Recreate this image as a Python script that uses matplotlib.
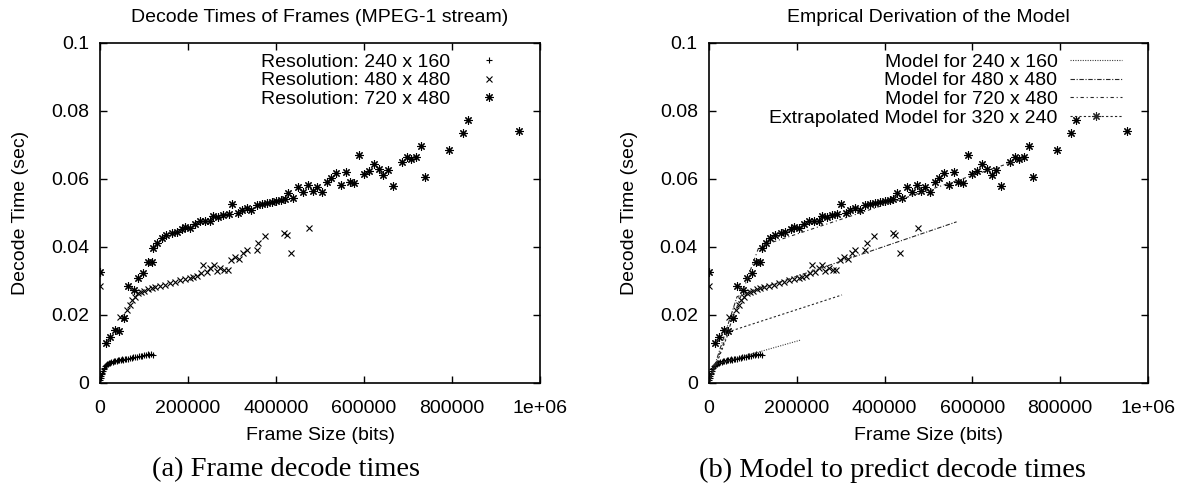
import matplotlib
matplotlib.use("Agg")
import matplotlib.pyplot as plt
from matplotlib.lines import Line2D
from matplotlib.legend_handler import HandlerLine2D

plt.rcParams['font.family'] = ['Liberation Sans', 'DejaVu Sans']
plt.rcParams['font.size'] = 14

# frame size (bits) / decode time (sec) per resolution
res240_x = [0, 1000, 2000, 3000, 4000, 5000, 6000, 8000, 10000, 12000, 14000, 16000,
            18000, 20000, 23000, 26000, 29000, 32000, 35000, 38000, 41000, 44000,
            47000, 50000, 53000, 56000, 60000, 64000, 68000, 72000, 76000, 80000,
            84000, 88000, 92000, 96000, 100000, 104000, 108000, 112000, 116000, 120000]
res240_y = [0.0025, 0.0009, 0.0015, 0.002, 0.0026, 0.003, 0.0034, 0.004, 0.0045, 0.0049,
            0.0052, 0.0055, 0.0057, 0.0059, 0.006, 0.0062, 0.0063, 0.0064, 0.0066, 0.0066,
            0.0067, 0.0068, 0.0068, 0.007, 0.0069, 0.0071, 0.0072, 0.0071, 0.0074, 0.0073,
            0.0075, 0.0077, 0.0076, 0.0079, 0.0078, 0.008, 0.0082, 0.0081, 0.0084, 0.0083,
            0.0085, 0.0082]

res480_x = [0, 45000, 55000, 61000, 68000, 73000, 80000, 87000, 94000, 101000, 109000,
            117000, 125000, 136000, 148000, 159000, 170000, 182000, 193000, 204000, 212000,
            220000, 230000, 235000, 242000, 250000, 258000, 265000, 273000, 282000, 290000,
            298000, 307000, 316000, 326000, 333000, 356000, 360000, 375000, 419000, 424000,
            434000, 476000]
res480_y = [0.0285, 0.0193, 0.019, 0.0215, 0.023, 0.0244, 0.0254, 0.0264, 0.0269, 0.0271,
            0.0275, 0.0278, 0.0281, 0.0285, 0.0288, 0.0293, 0.0298, 0.0303, 0.0305, 0.0308,
            0.0311, 0.0315, 0.0324, 0.0347, 0.0327, 0.0337, 0.0347, 0.033, 0.0337, 0.0332,
            0.0332, 0.0362, 0.0371, 0.0364, 0.0381, 0.0391, 0.0391, 0.0411, 0.0432, 0.0442,
            0.0435, 0.0381, 0.0457]

res720_x = [0, 13000, 22700, 34000, 44000, 55000, 64400, 78000, 87000, 98000, 108000,
            117000, 120000, 129000, 140000, 151000, 163000, 174000, 186000, 193000, 205000,
            216000, 227000, 239000, 250000, 257600, 269000, 280000, 292000, 301000, 313000,
            322000, 333000, 343000, 356000, 367000, 379000, 390000, 401000, 412000, 420000,
            428000, 439000, 451000, 462000, 473000, 483000, 492000, 504000, 515000, 525000,
            536000, 547000, 558000, 568000, 578000, 589000, 600000, 611000, 623000, 633000,
            644000, 654000, 665000, 686000, 697000, 707000, 718000, 729000, 739000, 793000,
            824000, 836000, 952000]
res720_y = [0.0326, 0.0117, 0.0136, 0.0156, 0.0154, 0.019, 0.0285, 0.0274, 0.0308, 0.0323,
            0.0357, 0.0357, 0.0398, 0.0411, 0.0425, 0.0435, 0.044, 0.0445, 0.0452, 0.046,
            0.0455, 0.0468, 0.0477, 0.0477, 0.0477, 0.0492, 0.0487, 0.0494, 0.0496, 0.0526,
            0.0501, 0.0509, 0.0514, 0.0509, 0.0524, 0.0526, 0.053, 0.0533, 0.0535, 0.0537,
            0.0541, 0.056, 0.0545, 0.0575, 0.0563, 0.0582, 0.0566, 0.0576, 0.0563, 0.0592,
            0.0602, 0.0617, 0.0582, 0.062, 0.0592, 0.0587, 0.0671, 0.0615, 0.0624, 0.0643,
            0.0629, 0.0612, 0.0626, 0.058, 0.0649, 0.0666, 0.0658, 0.0664, 0.0698, 0.0607,
            0.0685, 0.0736, 0.0774, 0.0742]

# piecewise linear models
model240_x = [0, 10000, 208000]
model240_y = [0, 0.0053, 0.0126]
model480_x = [0, 64000, 564000]
model480_y = [0, 0.0254, 0.0474]
model720_x = [0, 114000, 720000]
model720_y = [0, 0.0401, 0.0662]
model320_x = [0, 45500, 303000]
model320_y = [0, 0.0151, 0.0259]

xticks = [0, 200000, 400000, 600000, 800000, 1000000]
xticklabels = ['0', '200000', '400000', '600000', '800000', '1e+06']
yticks = [0, 0.02, 0.04, 0.06, 0.08, 0.1]
yticklabels = ['0', '0.02', '0.04', '0.06', '0.08', '0.1']

star = (8, 2, 0)  # gnuplot style asterisk


class StarAtStart(HandlerLine2D):
    def get_xdata(self, legend, xdescent, ydescent, width, height, fontsize):
        return [-xdescent, width - xdescent], [-xdescent + 0.12 * width]


def setup(ax):
    ax.set_xlim(0, 1000000)
    ax.set_ylim(0, 0.1)
    ax.set_xticks(xticks)
    ax.set_xticklabels(xticklabels)
    ax.set_yticks(yticks)
    ax.set_yticklabels(yticklabels)
    ax.tick_params(direction='in', length=5, width=1, top=True, right=True)
    ax.tick_params(axis='x', pad=12)
    ax.tick_params(axis='y', pad=8)
    for s in ax.spines.values():
        s.set_linewidth(1.2)
    ax.set_xlabel('Frame Size (bits)')
    ax.set_ylabel('Decode Time (sec)')
    ax.xaxis.set_label_coords(0.5, -0.128)
    ax.yaxis.set_label_coords(-0.162, 0.5)


def scatter_data(ax, labels):
    ms = 5
    ax.plot(res240_x, res240_y, ls='none', marker='+', ms=ms, mew=0.8, color='black',
            label=labels[0])
    ax.plot(res480_x, res480_y, ls='none', marker='x', ms=ms, mew=0.8, color='black',
            label=labels[1])
    ax.plot(res720_x, res720_y, ls='none', marker=star, ms=ms + 1, mew=0.8, color='black',
            label=labels[2])


fig = plt.figure(figsize=(11.84, 4.94), dpi=100)
ax1 = fig.add_axes([0.0845, 0.2247, 0.3716, 0.6883])
ax2 = fig.add_axes([0.5988, 0.2247, 0.3708, 0.6883])

# (a) measured decode times
setup(ax1)
scatter_data(ax1, ['Resolution: 240 x 160', 'Resolution: 480 x 480', 'Resolution: 720 x 480'])
ax1.set_title('Decode Times of Frames (MPEG-1 stream)', fontsize=14, pad=15)
ax1.legend(loc='upper right', bbox_to_anchor=(0.916, 0.97), frameon=False,
           markerfirst=False, numpoints=1, handlelength=1.4, handletextpad=1.3,
           labelspacing=0.05, borderpad=0, borderaxespad=0)

# (b) models on top of the same data
setup(ax2)
scatter_data(ax2, ['_a', '_b', '_c'])
l1, = ax2.plot(model240_x, model240_y, color='0.25', lw=0.8, dashes=(1, 1.2),
               label='Model for 240 x 160')
l2, = ax2.plot(model480_x, model480_y, color='0.15', lw=0.8, dashes=(4, 1.5, 1, 1.5),
               label='Model for 480 x 480')
l3, = ax2.plot(model720_x, model720_y, color='0.15', lw=0.8, dashes=(3, 2.5, 1, 2.5),
               label='Model for 720 x 480')
l4, = ax2.plot(model320_x, model320_y, color='0.15', lw=0.8, dashes=(2, 2),
               label='Extrapolated Model for 320 x 240')
h4 = Line2D([], [], color='0.15', lw=0.8, dashes=(2, 2), marker=star, ms=6, mew=0.8)
ax2.set_title('Emprical Derivation of the Model', fontsize=14, pad=15)
ax2.legend([l1, l2, l3, h4],
           ['Model for 240 x 160', 'Model for 480 x 480', 'Model for 720 x 480',
            'Extrapolated Model for 320 x 240'],
           handler_map={h4: StarAtStart()},
           loc='upper right', bbox_to_anchor=(0.94, 0.97), frameon=False,
           markerfirst=False, numpoints=1, handlelength=2.65, handletextpad=0.65,
           labelspacing=0.05, borderpad=0, borderaxespad=0)

fig.text(286 / 1184, 1 - 470 / 494, '(a) Frame decode times', ha='center', va='center',
         family='Liberation Serif', fontsize=20.5)
fig.text(892 / 1184, 1 - 470 / 494, '(b) Model to predict decode times', ha='center',
         va='center', family='Liberation Serif', fontsize=20.5)

fig.savefig('out.png', dpi=100)
